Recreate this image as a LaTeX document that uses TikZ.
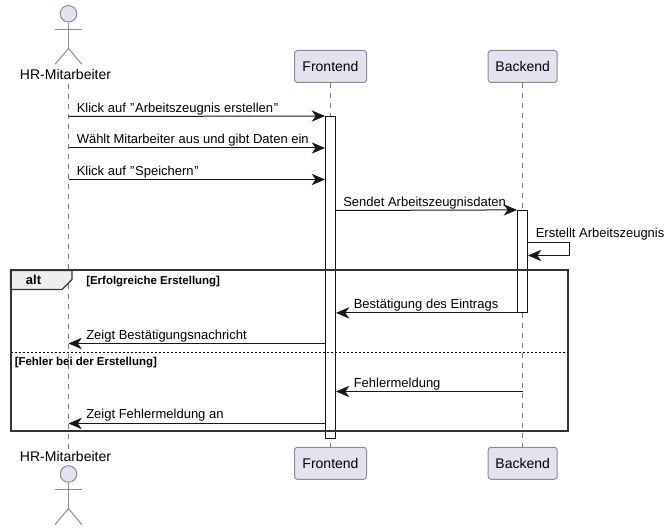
\documentclass[tikz,border=0pt]{standalone}
\usepackage{fontspec}
\setmainfont{Liberation Sans}
\usetikzlibrary{arrows.meta}
\definecolor{partfill}{HTML}{E2E2F0}
\definecolor{partline}{HTML}{8C8C94}
\definecolor{lifeline}{HTML}{7A7A7A}
\definecolor{msgline}{HTML}{181818}
\definecolor{tabfill}{HTML}{EEEEEE}
\newcommand{\qt}{\kern0.5pt\symbol{34}\kern0.5pt}
\tikzset{
  px/.style={x=0.75pt,y=-0.75pt},
  partbox/.style={draw=partline,fill=partfill,line width=0.75pt,rounded corners=2.2pt,minimum width=54pt,minimum height=24pt,inner sep=0pt,font=\fontsize{10.5pt}{12pt}\selectfont},
  partboxb/.style={partbox,minimum width=51.75pt},
  actorlabel/.style={inner sep=0pt,anchor=base,font=\fontsize{10.5pt}{12pt}\selectfont},
  actorline/.style={draw=partline,line width=0.75pt,fill=partfill},
  lifel/.style={draw=lifeline,line width=0.6pt,dash pattern=on 3.75pt off 3.75pt},
  msg/.style={draw=msgline,line width=0.75pt,-{Stealth[length=10pt,width=8.5pt,inset=3pt,fill=msgline]}},
  msglabel/.style={inner sep=0pt,anchor=base west,font=\fontsize{9.75pt}{12pt}\selectfont},
  activ/.style={draw=msgline,fill=white,line width=0.75pt},
  framebox/.style={draw=black!80,line width=1.5pt},
  guard/.style={inner sep=0pt,anchor=base west,font=\fontsize{8.6pt}{10pt}\selectfont\bfseries},
}
\begin{document}
\begin{tikzpicture}[px]
\useasboundingbox[fill=white] (0,0) rectangle (671,530);
% participants
\node[actorlabel] (hrT) at (65.5,80) {HR-Mitarbeiter};
\node[actorlabel] (hrB) at (65.5,462) {HR-Mitarbeiter};
\node[partbox] (feT) at (330.5,66.5) {Frontend};
\node[partbox] (feB) at (330.5,463.3) {Frontend};
\node[partboxb] (beT) at (522.7,66.5) {Backend};
\node[partboxb] (beB) at (522.7,463.3) {Backend};
% lifelines
\coordinate (hrL1) at (68.5,84);
\coordinate (hrL2) at (68.5,449);
\draw[lifel] (hrL1) -- (hrL2);
\draw[lifel] (feT.south) -- (feB.north);
\draw[lifel] (beT.south) -- (beB.north);
% actors
\foreach \n/\y in {a/13.8,b/474}{
  \node[actorline,circle,minimum size=12.4pt,inner sep=0pt] (head\n) at (68.5,\y) {};
  \coordinate (hip\n) at (68.5,\y+34.7);
  \coordinate (armL\n) at (55,\y+15.7);
  \coordinate (armR\n) at (81.8,\y+15.7);
  \coordinate (footL\n) at (55,\y+50.5);
  \coordinate (footR\n) at (81.8,\y+50.5);
  \draw[actorline] (head\n.south) -- (hip\n);
  \draw[actorline] (armL\n) -- (armR\n);
  \draw[actorline,fill=none] (footL\n) -- (hip\n) -- (footR\n);
}
% activations
\node[activ,minimum width=7.5pt,minimum height=241.3pt,inner sep=0pt] (actF) at (330.5,277.4) {};
\node[activ,minimum width=7.5pt,minimum height=76.5pt,inner sep=0pt] (actB) at (522.5,261.4) {};
% frame
\draw[framebox] (10.5,270.5) rectangle (568,431.5);
\coordinate (tabA) at (10.5,270.5);
\coordinate (tabB) at (72,270.5);
\coordinate (tabC) at (72,279.5);
\coordinate (tabD) at (62,289.5);
\coordinate (tabE) at (10.5,289.5);
\draw[draw=black!80,fill=tabfill,line width=0.9pt] (tabA) -- (tabB) -- (tabC) -- (tabD) -- (tabE) -- cycle;
\draw[framebox] (tabA) -- (tabB);
\draw[framebox] (tabA) -- (tabE);
\node[inner sep=0pt,anchor=base,font=\fontsize{9.75pt}{12pt}\selectfont\bfseries] (alt) at (33.5,284.3) {alt};
\coordinate (sepL) at (10.5,352.3);
\coordinate (sepR) at (568,352.3);
\draw[black,line width=0.6pt,dash pattern=on 1.5pt off 1.5pt] (sepL) -- (sepR);
\node[guard] (g1) at (86,284.3) {[Erfolgreiche Erstellung]};
\node[guard] (g2) at (14.5,365.5) {[Fehler bei der Erstellung]};
% messages
\coordinate (s1) at (68.5,116.5); \coordinate (e1) at (actF.north west);
\draw[msg] (s1) -- (e1);
\coordinate (s2) at (68.5,148); \coordinate (e2) at (actF.west |- s2);
\draw[msg] (s2) -- (e2);
\coordinate (s3) at (68.5,179.5); \coordinate (e3) at (actF.west |- s3);
\draw[msg] (s3) -- (e3);
\coordinate (s4) at (actF.east |- 0,210.5); \coordinate (e4) at (actB.north west);
\draw[msg] (s4) -- (e4);
\coordinate (s5) at (actB.east |- 0,242.5); \coordinate (c5a) at (569.5,242.5); \coordinate (c5b) at (569.5,255.5); \coordinate (e5) at (actB.east |- 0,255.5);
\draw[msg] (s5) -- (c5a) -- (c5b) -- (e5);
\coordinate (s6) at (actB.south west); \coordinate (e6) at (actF.east |- s6);
\draw[msg] (s6) -- (e6);
\coordinate (s7) at (actF.west |- 0,343.5); \coordinate (e7) at (68.5,343.5);
\draw[msg] (s7) -- (e7);
\coordinate (s8) at (522.5,391.5); \coordinate (e8) at (actF.east |- s8);
\draw[msg] (s8) -- (e8);
\coordinate (s9) at (actF.west |- 0,423.5); \coordinate (e9) at (68.5,423.5);
\draw[msg] (s9) -- (e9);
% labels
\node[msglabel] (t1) at (76.5,112.5) {Klick auf \qt Arbeitszeugnis erstellen\qt};
\node[msglabel] (t2) at (76.5,144) {Wählt Mitarbeiter aus und gibt Daten ein};
\node[msglabel] (t3) at (76.5,175.5) {Klick auf \qt Speichern\qt};
\node[msglabel] (t4) at (343,206.5) {Sendet Arbeitszeugnisdaten};
\node[msglabel] (t5) at (535.5,238) {Erstellt Arbeitszeugnis};
\node[msglabel] (t6) at (353.5,308.7) {Bestätigung des Eintrags};
\node[msglabel] (t7) at (86,339.7) {Zeigt Bestätigungsnachricht};
\node[msglabel] (t8) at (353.5,387.7) {Fehlermeldung};
\node[msglabel] (t9) at (86,418.7) {Zeigt Fehlermeldung an};
\end{tikzpicture}
\end{document}
